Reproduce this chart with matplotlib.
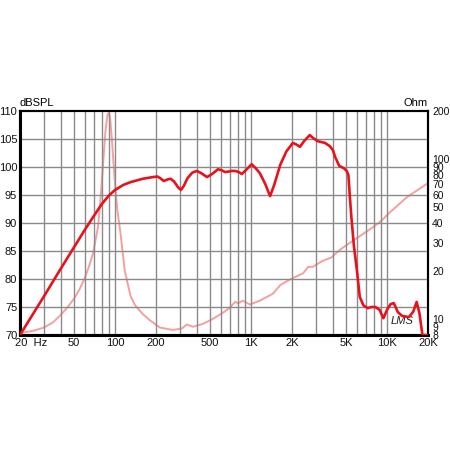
import numpy as np
import matplotlib.pyplot as plt
from matplotlib.ticker import FixedLocator, NullLocator
import matplotlib.transforms as mtransforms

plt.rcParams['font.family'] = ['Liberation Sans', 'DejaVu Sans']

# SPL response (Hz, dB)
spl_freq = [20, 30, 40, 50, 60, 70, 80, 90, 100, 115, 130, 160, 190, 205,
            215, 228, 245, 256, 272, 290, 305, 320, 341, 370, 400, 430, 475,
            520, 571, 610, 644, 690, 726, 764, 810, 857, 930, 1010, 1080,
            1160, 1270, 1380, 1480, 1640, 1820, 2030, 2160, 2290, 2450,
            2700, 2850, 3100, 3500, 3800, 4000, 4150, 4450, 4800, 5050,
            5200, 5300, 5450, 5700, 6000, 6300, 6700, 7200, 7700, 8200,
            8800, 9400, 10000, 10600, 11200, 12000, 12900, 14500, 15600,
            16500, 17300, 18200, 20000]
spl_db = [70, 76.9, 81.9, 85.7, 88.8, 91.3, 93.4, 94.9, 95.9, 96.8, 97.3,
          97.9, 98.2, 98.3, 98.0, 97.5, 97.8, 97.9, 97.4, 96.4, 95.9, 96.6,
          98.0, 99.0, 99.3, 98.9, 98.2, 98.8, 99.6, 99.4, 99.1, 99.2, 99.3,
          99.3, 99.1, 98.75, 99.6, 100.5, 99.8, 98.9, 97.0, 94.8, 96.8,
          100.4, 102.8, 104.3, 104.0, 103.6, 104.6, 105.7, 105.2, 104.6,
          104.3, 103.7, 103.0, 101.8, 100.2, 99.8, 99.3, 98.5, 95.5, 91.4,
          86.0, 81.6, 76.8, 75.3, 74.8, 75.0, 75.0, 74.5, 73.0, 74.5, 75.5,
          75.7, 74.1, 73.4, 73.2, 74.2, 75.9, 73.9, 70, 70]

# impedance (Hz, Ohm)
imp_freq = [20, 25, 30, 35, 40, 45, 50, 55, 60, 65, 69, 75, 78, 82, 85, 88,
            90, 92, 95, 97, 100, 104, 109, 118, 130, 140, 160, 180, 214, 266,
            311, 337, 375, 444, 525, 620, 695, 764, 800, 870, 980, 1160, 1450,
            1640, 1940, 2410, 2630, 2840, 3320, 3900, 4450, 4800, 6000, 7900,
            9200, 10300, 14000, 20000]
imp_ohm = [8.2, 8.5, 8.9, 9.6, 10.7, 12.0, 13.5, 15.5, 18.2, 22, 26, 38, 55,
           99, 150, 190, 195, 180, 130, 99, 70, 48, 36, 20, 14, 12.3, 10.8,
           9.9, 8.9, 8.6, 8.8, 9.3, 9.0, 9.4, 10.1, 11.0, 11.8, 12.9, 12.6,
           13.1, 12.4, 13.1, 14.5, 16.4, 17.8, 19.4, 21.3, 21.3, 23.1, 24.4,
           27, 28.3, 32.2, 37.7, 41.7, 46, 58, 71]

x_ticks = [20, 50, 100, 200, 500, 1000, 2000, 5000, 10000, 20000]
x_labels = ['20  Hz', '50', '100', '200', '500', '1K', '2K', '5K', '10K', '20K']
db_ticks = [70, 75, 80, 85, 90, 95, 100, 105, 110]
ohm_ticks = [8, 9, 10, 20, 30, 40, 50, 60, 70, 80, 90, 100, 200]

grid_freqs = [f * m for m in (10, 100, 1000) for f in range(2, 10)] + [100, 1000, 10000]
grid_freqs = [f for f in grid_freqs if 20 < f < 20000]

fig = plt.figure(figsize=(4.5, 4.5), dpi=100)
ax = fig.add_axes([20 / 450, 1 - 335 / 450, 408 / 450, 224 / 450])
ax.set_xscale('log')
ax.set_xlim(20, 20000)
ax.set_ylim(70, 110)

for f in grid_freqs:
    ax.axvline(f, color='#8a8a8a', lw=1.0, zorder=1)
for d in db_ticks[1:-1]:
    ax.axhline(d, color='#8a8a8a', lw=1.0, zorder=1)

ax2 = ax.twinx()
ax2.set_yscale('log')
ax2.set_ylim(8, 200)
ax2.plot(imp_freq, imp_ohm, color='#f5a0a0', lw=1.4, zorder=3)
ax.plot(spl_freq, spl_db, color='#e8121c', lw=1.9, zorder=4)
ax.set_zorder(ax2.get_zorder() + 1)
ax.patch.set_visible(False)

ax.xaxis.set_major_locator(FixedLocator(x_ticks))
ax.xaxis.set_minor_locator(NullLocator())
ax.set_xticklabels(x_labels)
ax.set_yticks(db_ticks)
ax2.yaxis.set_major_locator(FixedLocator(ohm_ticks))
ax2.yaxis.set_minor_locator(NullLocator())
ax2.set_yticklabels([str(t) for t in ohm_ticks])

ax.tick_params(length=0, labelsize=8, pad=2, colors='#111111')
ax2.tick_params(length=0, labelsize=7.5, pad=3, colors='#111111')

lbl = ax.get_xticklabels()[0]
lbl.set_ha('left')
lbl.set_transform(lbl.get_transform() + mtransforms.ScaledTranslation(-5 / 100, 0, fig.dpi_scale_trans))

for a in (ax, ax2):
    for s in a.spines.values():
        s.set_color('black')
        s.set_linewidth(1.5)
ax.spines['left'].set_linewidth(2.2)
ax.spines['bottom'].set_linewidth(2.2)

ax.text(0.0, 1.012, 'dBSPL', transform=ax.transAxes, fontsize=8, ha='left', va='bottom')
ax.text(1.0, 1.012, 'Ohm', transform=ax.transAxes, fontsize=8, ha='right', va='bottom')
ax.text(0.965, 0.04, 'LMS', transform=ax.transAxes, fontsize=8, ha='right', va='bottom',
        fontstyle='italic', color='#222222')

fig.savefig('out.png', dpi=100, facecolor='white')
